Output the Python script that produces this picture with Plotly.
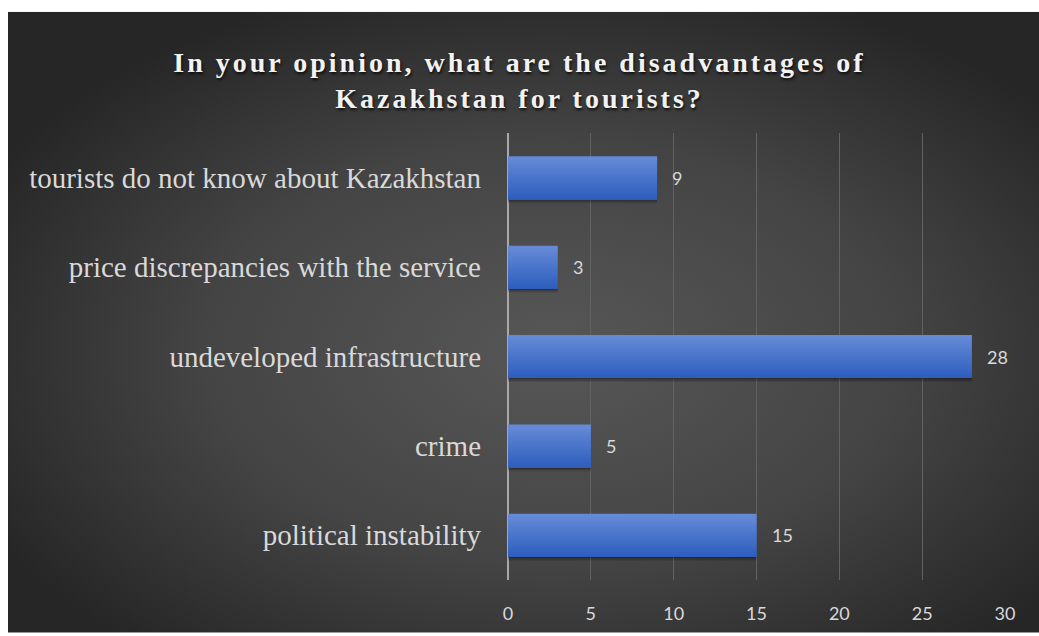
import base64
import plotly.graph_objects as go

# Survey answers
categories = [
    "political instability",
    "crime",
    "undeveloped infrastructure",
    "price discrepancies with the service",
    "tourists do not know about Kazakhstan",
]
counts = [15, 5, 28, 3, 9]
x_ticks = [0, 5, 10, 15, 20, 25, 30]

title_lines = ["In your opinion, what are the disadvantages of",
               "Kazakhstan for tourists?"]

W, H = 1039, 636
# plot area in pixels
L, R, T, B = 508, 1005, 133, 583

# radial gradient panel behind the chart
svg = f"""<svg xmlns='http://www.w3.org/2000/svg' width='1031' height='625' viewBox='0 0 1031 625' preserveAspectRatio='none'>
<defs><radialGradient id='g' cx='0.53' cy='0.55' r='0.62' gradientUnits='objectBoundingBox'>
<stop offset='0' stop-color='#575757'/>
<stop offset='0.55' stop-color='#444444'/>
<stop offset='1' stop-color='#262626'/>
</radialGradient></defs>
<rect width='1031' height='625' fill='url(#g)'/>
</svg>"""
bg_uri = "data:image/svg+xml;base64," + base64.b64encode(svg.encode()).decode()

pw, ph = R - L, B - T

fig = go.Figure()

bar_w = 0.48

# soft shadow under each bar
for dy, a in [(0.045, 0.10), (0.03, 0.15), (0.015, 0.18)]:
    fig.add_trace(go.Bar(
        y=categories, x=counts, orientation="h",
        width=bar_w, offset=-bar_w / 2 - dy,
        marker=dict(color="rgba(0,0,0,%.2f)" % a, line=dict(width=0)),
        hoverinfo="skip", showlegend=False,
    ))

# bars built from stacked horizontal bands for a vertical gradient
top_rgb = (0x64, 0x89, 0xd6)
bot_rgb = (0x2d, 0x5d, 0xbd)
n_bands = 22
bw = bar_w / n_bands
ext = bw * 0.8
for i in range(n_bands):
    t = i / (n_bands - 1)
    c = tuple(round(bot_rgb[k] + (top_rgb[k] - bot_rgb[k]) * t) for k in range(3))
    lo = -bar_w / 2 + i * bw - (ext if i > 0 else 0)
    hi = -bar_w / 2 + (i + 1) * bw
    fig.add_trace(go.Bar(
        y=categories, x=counts, orientation="h",
        width=hi - lo, offset=lo,
        marker=dict(color="rgb(%d,%d,%d)" % c, line=dict(width=0)),
        hoverinfo="skip", showlegend=False,
    ))

annotations = [
    dict(x=v, y=c, xref="x", yref="y", text=str(v), showarrow=False,
         xanchor="left", yanchor="middle", xshift=13,
         font=dict(family="Lato, 'Open Sans', sans-serif", size=18, color="#d9d9d9"))
    for c, v in zip(categories, counts)
]

title_html = "<br>".join(
    '<span style="letter-spacing:3px">%s</span>' % line for line in title_lines)

fig.update_layout(
    width=W, height=H,
    margin=dict(l=L, r=W - R, t=T, b=H - B, pad=0),
    paper_bgcolor="white",
    plot_bgcolor="rgba(0,0,0,0)",
    barmode="overlay",
    showlegend=False,
    title=dict(
        text=title_html,
        x=0.5, xref="container", xanchor="center",
        y=1 - 72 / H, yref="container", yanchor="middle",
        font=dict(family="'Liberation Serif', 'Times New Roman', serif",
                  size=28, color="#f2f2f2", weight="bold",
                  shadow="1px 2px 3px rgba(0,0,0,0.8)"),
    ),
    xaxis=dict(
        range=[0, 30], tickvals=x_ticks, ticktext=[str(v) for v in x_ticks],
        showgrid=True, gridcolor="#626262", gridwidth=1,
        zeroline=True, zerolinecolor="#a8a8a8", zerolinewidth=2,
        showline=False, ticks="", ticklabelstandoff=21,
        tickfont=dict(family="Lato, 'Open Sans', sans-serif", size=18, color="#d9d9d9"),
        fixedrange=True,
    ),
    yaxis=dict(
        categoryorder="array", categoryarray=categories,
        showgrid=False, zeroline=False, showline=False, ticks="",
        ticklabelstandoff=26,
        tickfont=dict(family="'Liberation Serif', 'Times New Roman', serif",
                      size=29, color="#d9d9d9"),
        range=[-0.5, 4.5], fixedrange=True,
    ),
    annotations=annotations,
    images=[dict(
        source=bg_uri, xref="paper", yref="paper",
        x=(8 - L) / pw, y=(B - 11) / ph,
        sizex=(W - 8) / pw, sizey=(H - 11) / ph,
        xanchor="left", yanchor="top", sizing="stretch", layer="below",
    )],
)

fig.write_html("out.html")
